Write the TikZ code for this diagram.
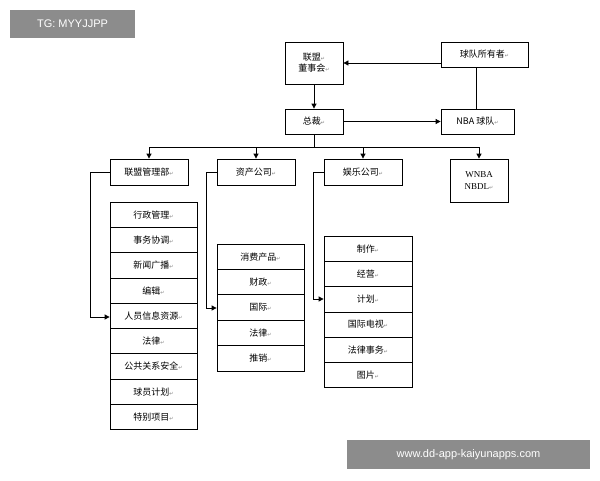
\documentclass[tikz,border=0pt]{standalone}
\usepackage{fontspec}
\setmainfont{Liberation Serif}
\newfontfamily\cjk{Noto Sans CJK SC}
\newfontfamily\djv{DejaVu Sans}
\newfontfamily\lsans{Liberation Sans}
\usetikzlibrary{arrows.meta}
\newcommand{\rt}{{\djv\tiny\textcolor{gray}{↵}}}
\begin{document}
\begin{tikzpicture}[x=1pt,y=-1pt,
  box/.style={draw,thick,inner sep=0pt,font=\cjk\fontsize{9}{11}\selectfont,align=center},
  conn/.style={thick},
  arr/.style={thick,-{Triangle[length=5pt,width=5pt]}}]
\useasboundingbox (0,0) rectangle (600,480);
\fill[white] (0,0) rectangle (600,480);
\node[box,minimum width=58pt,minimum height=42pt] (dsh) at (314,63) {联盟\rt\\董事会\rt};
\node[box,minimum width=87pt,minimum height=25pt] (own) at (484.5,54.5) {球队所有者\rt};
\node[box,minimum width=58pt,minimum height=25pt] (zc) at (314,121.5) {总裁\rt};
\node[box,minimum width=73pt,minimum height=25pt] (nba) at (477.5,121.5) {NBA {\cjk 球队}\rt};
\node[box,minimum width=78pt,minimum height=26pt] (lm) at (149,172) {联盟管理部\rt};
\node[box,minimum width=78pt,minimum height=26pt] (zc2) at (256,172) {资产公司\rt};
\node[box,minimum width=78pt,minimum height=26pt] (yl) at (363,172) {娱乐公司\rt};
\node[box,minimum width=58pt,minimum height=43pt,font=\fontsize{9}{12}\selectfont] (wn) at (479,180.5) {WNBA\\NBDL\rt};
\draw[arr] (own.west|-0,63) -- (dsh.east|-0,63);
\draw[conn] (476,67) -- (476,109);
\draw[arr] (dsh) -- (zc);
\draw[arr] (zc) -- (nba);
\coordinate (hub) at (314,147);
\draw[conn] (zc.south) -- (hub);
\draw[conn] (lm.north|-hub) -- (wn.north|-hub);
\foreach \n in {lm,zc2,yl,wn} \draw[arr] (\n.north|-hub) -- (\n.north);
% columns
\foreach \t [count=\i] in {行政管理,事务协调,新闻广播,编辑,人员信息资源,法律,公共关系安全,球员计划,特别项目}
  \node[box,minimum width=87pt,minimum height=25.3pt] (a\i) at (153.5,214.65+25.3*\i-25.3) {\t\rt};
\foreach \t [count=\i] in {消费产品,财政,国际,法律,推销}
  \node[box,minimum width=87pt,minimum height=25.4pt] (b\i) at (260.5,256.7+25.4*\i-25.4) {\t\rt};
\foreach \t [count=\i] in {制作,经营,计划,国际电视,法律事务,图片}
  \node[box,minimum width=88pt,minimum height=25.3pt] (c\i) at (368,248.65+25.3*\i-25.3) {\t\rt};
\draw[arr] (lm.west) -| (90,317) -- (a5.west|-0,317);
\draw[arr] (zc2.west) -| (206,308) -- (b3.west|-0,308);
\draw[arr] (yl.west) -| (313,299) -- (c3.west|-0,299);
% watermarks
\node[fill=black!45,text=white,minimum width=125pt,minimum height=28pt,inner sep=0pt,font=\lsans\fontsize{11}{13}\selectfont] (wm1) at (72.5,24) {TG: MYYJJPP};
\node[fill=black!45,text=white,minimum width=243pt,minimum height=29pt,inner sep=0pt,font=\lsans\fontsize{11}{13}\selectfont] (wm2) at (468.5,454.5) {www.dd-app-kaiyunapps.com};
\end{tikzpicture}
\end{document}
